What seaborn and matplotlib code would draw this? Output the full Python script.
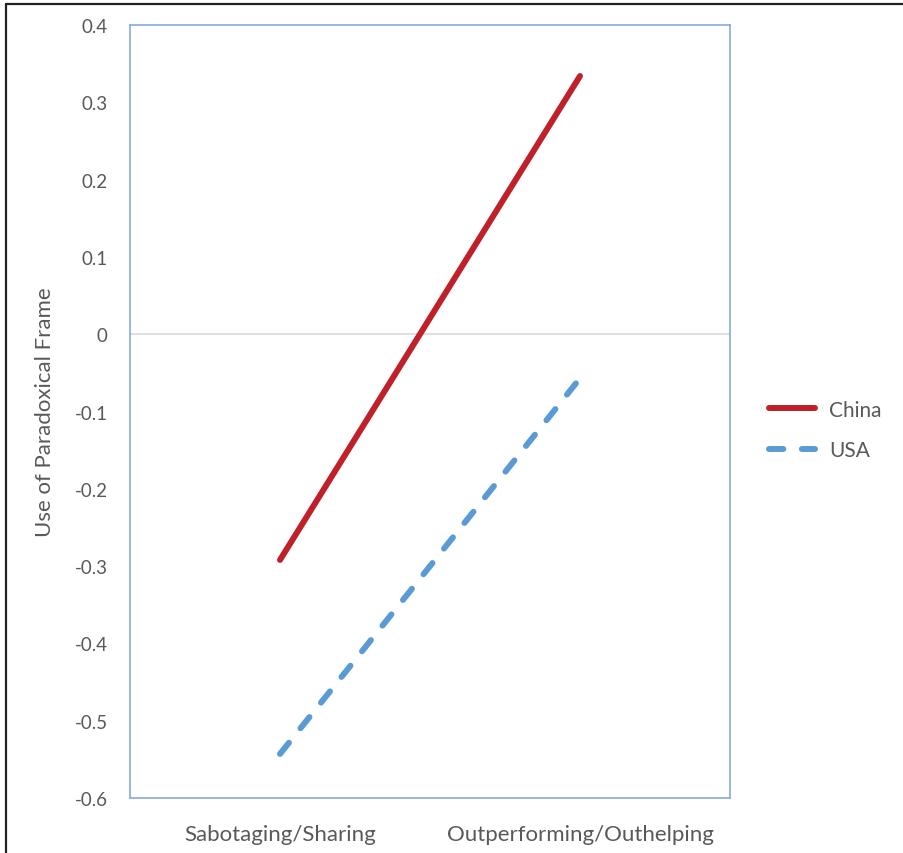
import pandas as pd
import matplotlib
matplotlib.use("Agg")
import matplotlib.pyplot as plt
from matplotlib.lines import Line2D
import seaborn as sns

# values
conditions = ["Sabotaging/Sharing", "Outperforming/Outhelping"]
china = [-0.292, 0.334]
usa = [-0.543, -0.057]
y_ticks = [0.4, 0.3, 0.2, 0.1, 0, -0.1, -0.2, -0.3, -0.4, -0.5, -0.6]
y_tick_labels = ["0.4", "0.3", "0.2", "0.1", "0", "-0.1", "-0.2", "-0.3", "-0.4", "-0.5", "-0.6"]

df = pd.DataFrame(
    {
        "Condition": conditions * 2,
        "Value": china + usa,
        "Country": ["China"] * len(china) + ["USA"] * len(usa),
    }
)
df["pos"] = list(range(len(conditions))) * 2

sns.set_style("white")
plt.rcParams["font.family"] = ["Lato", "DejaVu Sans"]
text_color = "#595959"

fig = plt.figure(figsize=(9.04, 8.54), dpi=100)
ax = fig.add_axes([130 / 904, 1 - 799 / 854, 600 / 904, 773 / 854])

ax.axhline(0, color="#d9d9d9", linewidth=1.2, zorder=1)

sns.lineplot(
    data=df,
    x="pos",
    y="Value",
    hue="Country",
    style="Country",
    palette={"China": "#c0202a", "USA": "#5b9bd5"},
    dashes={"China": "", "USA": (2.4, 3.1)},
    linewidth=4.3,
    ax=ax,
    zorder=3,
)
for line in ax.get_lines():
    line.set_solid_capstyle("round")
    line.set_dash_capstyle("round")

ax.set_xlim(-0.5, 1.5)
ax.set_ylim(-0.6, 0.4)
ax.set_xticks(range(len(conditions)))
ax.set_xticklabels(conditions, fontsize=16, color=text_color)
ax.set_yticks(y_ticks)
ax.set_yticklabels(y_tick_labels, fontsize=13.5, color=text_color)
ax.tick_params(axis="both", length=0)
ax.tick_params(axis="x", pad=19)
ax.tick_params(axis="y", pad=16)
ax.set_xlabel("")
ax.set_ylabel("Use of Paradoxical Frame", fontsize=16, color=text_color, labelpad=14)

for spine in ax.spines.values():
    spine.set_visible(True)
    spine.set_color("#86abd8")
    spine.set_linewidth(1.2)

handles, labels = ax.get_legend_handles_labels()
for h in handles:
    h.set_solid_capstyle("round")
    h.set_dash_capstyle("round")
ax.legend(
    handles=handles,
    labels=labels,
    loc="center left",
    bbox_to_anchor=(769 / 904, 1 - 431 / 854),
    bbox_transform=fig.transFigure,
    frameon=False,
    fontsize=15,
    labelcolor=text_color,
    handlelength=2.2,
    handletextpad=0.7,
    labelspacing=1.0,
    borderpad=0,
    borderaxespad=0,
)

# outer frame (only left and top edges visible)
fig.add_artist(Line2D([6 / 904, 6 / 904], [0, 1 - 5 / 854], transform=fig.transFigure, color="#222222", linewidth=1.6))
fig.add_artist(Line2D([6 / 904, 1], [1 - 5 / 854, 1 - 5 / 854], transform=fig.transFigure, color="#222222", linewidth=1.6))

plt.savefig("out.png", dpi=100)
